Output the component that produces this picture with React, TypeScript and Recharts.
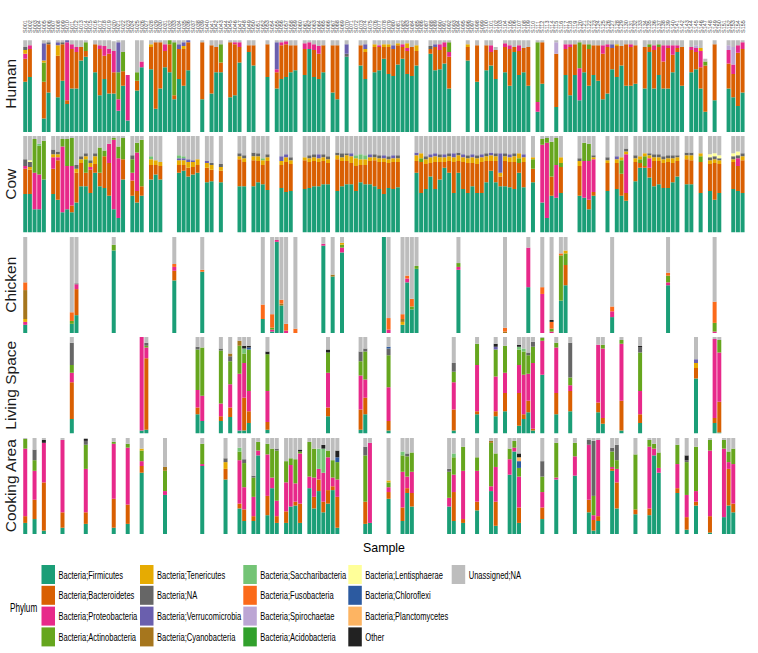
import React from "react";
import { BarChart, Bar, XAxis, YAxis } from "recharts";

// ---------- categories / tick labels ----------
const SAMPLE_IDS = (
  "S001 S002 S003 S004 S005 S006 S007 S008 S009 S010 S011 S012 S013 S014 S015 S016 S017 S018 S019 S020 " +
  "S021 S022 S023 S024 S025 S026 S027 S028 S029 S030 S031 S032 S033 S034 S035 S036 S037 S038 S039 S040 " +
  "S041 S042 S043 S044 S045 S046 S047 S048 S049 S050 S051 S052 S053 S054 S055 S056 S057 S058 S059 S060 " +
  "S061 S062 S063 S064 S065 S066 S067 S068 S069 S070 S071 S072 S073 S074 S075 S076 S077 S078 S079 S080 " +
  "S081 S082 S083 S084 S085 S086 S087 S088 S089 S090 S091 S092 S093 S094 S095 S096 S097 S098 S099 S100 " +
  "S101 S102 S103 S104 S105 S106 S107 S108 S109 S110 S111 S112 S113 S114 S115 S116 S117 S118 S119 S120 " +
  "S121 S122 S123 S124 S125 S126 S127 S128 S129 S130 S131 S132 S133 S134 S135 S136 S137 S138 S139 S140 " +
  "S141 S142 S143 S144 S145 S146 S147 S148 S149 S150 S151 S152 S153 S154 S155"
).split(" ");

// ---------- phyla (legend order = stack order bottom->top) ----------
const PHYLUM_KEYS = ["F", "B", "P", "A", "T", "N", "V", "C", "S", "Fu", "Sp", "Ac", "L", "Ch", "Pl", "O", "U"];
const PHYLUM_NAMES = [
  "Bacteria;Firmicutes", "Bacteria;Bacteroidetes", "Bacteria;Proteobacteria", "Bacteria;Actinobacteria",
  "Bacteria;Tenericutes", "Bacteria;NA", "Bacteria;Verrucomicrobia", "Bacteria;Cyanobacteria",
  "Bacteria;Saccharibacteria", "Bacteria;Fusobacteria", "Bacteria;Spirochaetae", "Bacteria;Acidobacteria",
  "Bacteria;Lentisphaerae", "Bacteria;Chloroflexi", "Bacteria;Planctomycetes", "Other", "Unassigned;NA",
];
const PHYLUM_COLORS = [
  "#1b9e77", "#d95f02", "#e7298a", "#66a61e", "#e6ab02", "#666666", "#6a5fae", "#a6761d",
  "#74c476", "#fb6a1a", "#bca6d4", "#31a02c", "#ffff99", "#2c5aa0", "#fdb462", "#222222", "#bdbdbd",
];

type V = Record<string, number>;

// ---------- relative abundance (%) per sample, per sample type ----------
const HUMAN: [number, V][] = [
  [0, { F: 52, B: 24, P: 5, T: 4, N: 3, U: 7 }], [1, { F: 57, B: 29, P: 4, U: 5 }],
  [4, { F: 14, B: 38, A: 20, V: 18, T: 2, U: 3 }], [5, { F: 41, B: 50, N: 2, U: 2 }],
  [7, { F: 36, B: 43, T: 11, V: 3, U: 2 }], [8, { F: 53, B: 38, N: 2, U: 2 }],
  [9, { F: 29, B: 4, P: 60, V: 2 }], [10, { F: 45, B: 41, P: 5, U: 4 }],
  [11, { F: 45, B: 38, P: 5, U: 7 }], [12, { F: 74, B: 14, U: 7 }],
  [13, { F: 78, B: 6, A: 9, U: 2 }], [15, { F: 62, B: 29, U: 4 }],
  [16, { F: 38, B: 48, P: 4, U: 5 }], [17, { F: 55, B: 24, P: 10, U: 6 }],
  [18, { F: 40, B: 41, P: 5, U: 9 }], [19, { F: 40, B: 22, P: 22, U: 10 }],
  [20, { F: 22, P: 12, A: 28, V: 31, U: 2 }], [21, { F: 48, B: 15, A: 20, U: 12 }],
  [22, { F: 12, P: 47 }], [24, { F: 43, B: 10, A: 9, U: 33 }],
  [25, { F: 67, P: 6, U: 22 }], [27, { F: 65, B: 23, T: 3, U: 4 }],
  [28, { F: 24, B: 69, U: 2 }], [29, { F: 45, B: 48, U: 2 }],
  [30, { F: 67, B: 17, P: 7, U: 4 }], [31, { F: 62, B: 29, A: 4 }],
  [32, { F: 34, B: 4, A: 55, U: 2 }], [33, { F: 55, B: 31, V: 5, U: 4 }],
  [34, { F: 48, B: 38, T: 3, V: 4, U: 2 }], [35, { F: 64, B: 29, V: 2 }],
  [38, { F: 34, B: 59, U: 2 }], [40, { F: 40, B: 50, U: 5 }],
  [41, { F: 62, B: 26, U: 7 }], [42, { F: 62, B: 10, A: 19, U: 4 }],
  [44, { F: 36, B: 57, U: 2 }], [45, { F: 38, B: 53, P: 2, U: 2 }],
  [46, { F: 72, B: 16, P: 5, U: 2 }], [48, { F: 83, B: 7, U: 5 }],
  [49, { F: 69, B: 21, U: 5 }], [52, { F: 57, B: 34, U: 4 }],
  [54, { F: 45, B: 17, P: 3, V: 28, U: 2 }], [55, { F: 55, B: 35, P: 3, U: 2 }],
  [56, { F: 57, B: 34, P: 3, U: 1 }], [57, { F: 62, B: 28, U: 5 }],
  [58, { F: 64, B: 26, U: 5 }], [60, { F: 59, B: 27, P: 6, U: 3 }],
  [61, { F: 86, P: 7, U: 2 }], [62, { F: 57, B: 28, P: 6, U: 4 }],
  [63, { F: 55, B: 26, P: 8, U: 6 }], [64, { F: 62, B: 28, U: 5 }],
  [66, { F: 41, B: 49, U: 5 }], [67, { F: 34, B: 56, U: 5 }],
  [69, { F: 78, N: 3, V: 10, U: 4 }], [72, { F: 69, B: 21, U: 5 }],
  [73, { F: 55, B: 28, V: 5, T: 3, U: 4 }], [75, { F: 62, B: 26, T: 3, U: 4 }],
  [76, { F: 64, B: 24, P: 2, U: 5 }], [77, { F: 76, B: 12, T: 3, U: 4 }],
  [78, { F: 60, B: 28, T: 3, U: 4 }], [79, { F: 58, B: 28, V: 4, U: 5 }],
  [80, { F: 70, B: 20, T: 2, U: 3 }], [81, { F: 76, B: 12, P: 3, U: 4 }],
  [82, { F: 60, B: 24, P: 3, T: 5, U: 3 }], [83, { F: 58, B: 30, U: 7 }],
  [84, { F: 69, B: 15, T: 6, U: 5 }], [87, { F: 81, B: 5, N: 3, U: 6 }],
  [88, { F: 64, B: 24, V: 3, U: 4 }], [89, { F: 65, B: 20, P: 6, U: 4 }],
  [90, { F: 71, B: 17, P: 5, U: 2 }], [91, { F: 45, B: 33, P: 5, A: 10, U: 2 }],
  [95, { F: 74, B: 14, T: 3, U: 4 }], [97, { F: 52, B: 38, U: 5 }],
  [99, { F: 64, B: 26, U: 5 }], [100, { F: 69, B: 14, P: 7, U: 5 }],
  [101, { F: 55, B: 30, U: 3 }], [103, { F: 62, B: 26, P: 4, U: 3 }],
  [104, { F: 48, B: 38, P: 4, U: 5 }], [105, { F: 83, B: 5, U: 7 }],
  [106, { F: 59, B: 25, P: 6, U: 5 }], [107, { F: 62, B: 25, U: 8 }],
  [108, { F: 48, B: 40, U: 7 }], [110, { F: 21, P: 10, A: 62, U: 2 }],
  [111, { F: 50, B: 43, U: 2 }], [114, { F: 26, B: 55, Sp: 12, U: 2 }],
  [116, { F: 59, B: 27, P: 5, U: 4 }], [117, { F: 38, B: 50, P: 3, U: 4 }],
  [118, { F: 59, B: 32, U: 4 }], [119, { F: 33, P: 33, A: 27, U: 2 }],
  [120, { F: 62, B: 29, U: 4 }], [121, { F: 48, B: 38, A: 5, U: 4 }],
  [122, { F: 59, B: 31, U: 5 }], [123, { F: 53, B: 37, U: 5 }],
  [124, { F: 34, B: 47, P: 9, U: 5 }], [125, { F: 40, B: 48, P: 3, U: 4 }],
  [126, { F: 65, B: 22, V: 4, U: 4 }], [127, { F: 57, B: 32, T: 2, U: 4 }],
  [128, { F: 69, B: 20, U: 6 }], [129, { F: 48, B: 43, U: 4 }],
  [130, { F: 48, B: 40, P: 3, U: 4 }], [131, { F: 50, B: 40, U: 5 }],
  [133, { F: 45, B: 43, U: 7 }], [134, { F: 83, B: 5, A: 3, U: 4 }],
  [135, { F: 45, B: 40, P: 5, U: 5 }], [136, { F: 59, B: 29, A: 3, U: 4 }],
  [137, { F: 45, B: 28, P: 17, U: 5 }], [138, { F: 45, B: 42, P: 3, U: 5 }],
  [139, { F: 62, B: 18, P: 10, U: 5 }], [140, { F: 83, B: 4, P: 3, U: 5 }],
  [141, { F: 48, B: 40, U: 7 }], [143, { F: 62, B: 23, P: 3, U: 7 }],
  [144, { F: 65, B: 18, P: 4, Sp: 3, U: 5 }], [145, { F: 45, B: 22, P: 17, T: 3, U: 8 }],
  [146, { F: 21, B: 48, A: 4, U: 3 }], [148, { F: 33, B: 58, U: 4 }],
  [151, { F: 45, B: 26, P: 14, Sp: 5, U: 5 }], [152, { F: 36, B: 24, P: 10, Sp: 18, U: 7 }],
  [153, { F: 27, B: 55, P: 8, U: 5 }], [154, { F: 41, B: 45, P: 7, U: 2 }],
];

const COW: [number, V][] = [
  [0, { F: 40, B: 26, P: 3, N: 7, U: 24 }], [1, { F: 40, B: 25, T: 3, N: 5, L: 2, U: 25 }],
  [2, { F: 24, P: 38, A: 35, U: 3 }], [3, { F: 24, P: 36, A: 30, S: 2, U: 8 }],
  [4, { F: 55, A: 40, U: 5 }], [6, { F: 40, B: 26, P: 12, T: 3, N: 5, U: 14 }],
  [7, { F: 34, B: 41, P: 3, T: 3, N: 3, U: 16 }], [8, { F: 21, P: 68, A: 8, U: 3 }],
  [9, { F: 24, P: 45, A: 28, U: 3 }], [10, { F: 21, P: 41, B: 7, A: 29, U: 2 }],
  [11, { F: 31, B: 31, T: 4, N: 4, U: 30 }], [12, { F: 48, B: 24, T: 4, N: 3, U: 21 }],
  [13, { F: 48, B: 14, A: 14, T: 3, N: 3, U: 18 }], [14, { F: 41, B: 24, P: 3, T: 4, N: 3, U: 25 }],
  [15, { F: 62, B: 9, T: 8, N: 3, U: 18 }], [16, { F: 48, B: 14, A: 26, U: 12 }],
  [17, { F: 46, B: 33, A: 6, U: 15 }], [18, { F: 38, B: 34, P: 20, U: 8 }],
  [19, { F: 24, P: 72, A: 2, U: 2 }], [20, { F: 15, P: 62, A: 12, U: 11 }],
  [21, { F: 55, B: 21, A: 22, U: 2 }], [23, { F: 38, B: 16, P: 8, A: 14, N: 4, U: 20 }],
  [24, { F: 31, B: 12, P: 40, A: 10, U: 7 }], [25, { F: 38, B: 10, A: 48, U: 4 }],
  [27, { F: 55, B: 15, T: 6, S: 3, U: 21 }], [28, { F: 60, B: 10, T: 5, U: 25 }],
  [29, { F: 55, B: 14, T: 4, U: 27 }], [33, { F: 62, B: 8, T: 5, S: 3, V: 2, U: 20 }],
  [34, { F: 64, B: 6, T: 5, V: 2, S: 2, U: 21 }], [35, { F: 58, B: 9, T: 6, V: 3, U: 24 }],
  [36, { F: 60, B: 8, T: 5, V: 2, U: 25 }], [37, { F: 62, B: 8, T: 6, U: 24 }],
  [39, { F: 52, B: 15, T: 5, V: 2, U: 26 }], [40, { F: 53, B: 12, T: 5, N: 2, U: 28 }],
  [42, { F: 52, B: 12, T: 4, N: 3, U: 29 }], [46, { F: 48, B: 28, T: 3, N: 3, U: 18 }],
  [47, { F: 48, B: 25, T: 4, N: 3, U: 20 }], [49, { F: 48, B: 27, T: 4, N: 4, U: 17 }],
  [50, { F: 52, B: 22, T: 5, N: 3, U: 18 }], [51, { F: 50, B: 20, T: 5, S: 2, U: 23 }],
  [52, { F: 44, B: 30, T: 4, N: 3, U: 19 }], [55, { F: 46, B: 24, T: 4, V: 5, U: 21 }],
  [56, { F: 42, B: 31, T: 5, V: 3, U: 19 }], [57, { F: 43, B: 28, T: 4, N: 3, U: 22 }],
  [60, { F: 45, B: 30, T: 3, U: 22 }], [61, { F: 46, B: 27, T: 4, N: 3, U: 20 }],
  [62, { F: 48, B: 26, T: 4, N: 3, U: 19 }], [63, { F: 48, B: 25, T: 4, V: 4, U: 19 }],
  [64, { F: 50, B: 24, T: 4, N: 3, U: 19 }], [65, { F: 50, B: 22, T: 4, N: 3, U: 21 }],
  [67, { F: 43, B: 33, T: 4, N: 3, U: 17 }], [68, { F: 48, B: 26, T: 4, N: 4, U: 18 }],
  [69, { F: 50, B: 24, T: 6, N: 2, U: 18 }], [70, { F: 50, B: 22, T: 7, V: 3, U: 18 }],
  [71, { F: 43, B: 26, T: 8, S: 3, U: 20 }], [72, { F: 52, B: 18, T: 6, S: 5, U: 19 }],
  [73, { F: 50, B: 20, T: 6, S: 4, U: 20 }], [74, { F: 50, B: 24, T: 4, V: 3, U: 19 }],
  [75, { F: 48, B: 27, T: 3, N: 3, U: 19 }], [76, { F: 45, B: 28, T: 4, N: 3, U: 20 }],
  [77, { F: 40, B: 33, T: 4, V: 3, U: 20 }], [78, { F: 46, B: 26, T: 4, N: 3, U: 21 }],
  [79, { F: 45, B: 28, T: 4, V: 3, U: 20 }], [80, { F: 47, B: 26, T: 4, N: 3, U: 20 }],
  [84, { F: 62, B: 12, T: 6, V: 3, U: 17 }], [85, { F: 41, B: 32, T: 5, A: 4, U: 18 }],
  [86, { F: 45, B: 26, T: 5, N: 3, U: 21 }], [87, { F: 58, B: 14, T: 6, V: 3, U: 19 }],
  [88, { F: 45, B: 28, T: 6, V: 3, U: 18 }], [89, { F: 55, B: 18, T: 5, N: 3, U: 19 }],
  [90, { F: 67, B: 6, T: 5, V: 3, U: 19 }], [91, { F: 62, B: 12, T: 5, N: 3, U: 18 }],
  [92, { F: 41, B: 32, T: 5, V: 4, U: 18 }], [93, { F: 62, B: 12, T: 6, N: 3, U: 17 }],
  [94, { F: 45, B: 28, T: 5, V: 3, U: 19 }], [95, { F: 41, B: 31, T: 5, N: 3, U: 20 }],
  [96, { F: 48, B: 24, T: 6, V: 3, U: 19 }], [97, { F: 41, B: 30, T: 6, N: 3, U: 20 }],
  [98, { F: 41, B: 32, T: 5, V: 3, U: 19 }], [99, { F: 52, B: 22, T: 5, N: 3, U: 18 }],
  [100, { F: 64, B: 10, T: 6, V: 3, U: 17 }], [101, { F: 52, B: 22, T: 5, N: 3, U: 18 }],
  [102, { F: 48, B: 10, T: 4, V: 20, U: 18 }], [103, { F: 48, B: 26, T: 5, N: 3, U: 18 }],
  [104, { F: 47, B: 26, T: 5, V: 3, U: 19 }], [105, { F: 45, B: 28, T: 6, N: 3, U: 18 }],
  [106, { F: 62, B: 10, A: 5, T: 5, U: 18 }], [107, { F: 47, B: 26, T: 5, V: 3, U: 19 }],
  [109, { F: 52, B: 14, A: 10, T: 2, U: 22 }], [111, { F: 31, P: 60, A: 6, U: 3 }],
  [112, { F: 15, P: 78, A: 5, U: 2 }], [113, { F: 38, B: 20, A: 36, U: 6 }],
  [114, { F: 36, P: 34, A: 28, U: 2 }], [115, { F: 41, B: 27, A: 4, T: 6, U: 22 }],
  [119, { F: 38, B: 31, T: 5, N: 3, U: 23 }], [120, { F: 36, P: 38, A: 19, U: 7 }],
  [121, { F: 24, B: 10, P: 40, A: 18, U: 8 }], [122, { F: 38, B: 4, P: 34, T: 2, N: 2, U: 20 }],
  [125, { F: 43, B: 29, T: 3, N: 3, U: 22 }], [127, { F: 45, B: 27, T: 4, V: 3, U: 21 }],
  [128, { F: 38, B: 23, A: 14, T: 3, U: 22 }], [129, { F: 33, B: 8, P: 40, T: 3, N: 3, U: 13 }],
  [131, { F: 53, B: 20, T: 4, N: 3, U: 20 }], [132, { F: 67, B: 5, A: 4, T: 3, U: 21 }],
  [133, { F: 67, B: 2, A: 10, T: 3, U: 18 }], [134, { F: 57, B: 10, P: 10, T: 3, N: 2, U: 18 }],
  [135, { F: 48, B: 26, T: 4, N: 3, U: 19 }], [136, { F: 50, B: 24, T: 4, N: 3, U: 19 }],
  [137, { F: 46, B: 26, T: 4, N: 3, U: 21 }], [138, { F: 46, B: 27, T: 4, N: 3, U: 20 }],
  [139, { F: 52, B: 20, T: 5, N: 3, U: 20 }], [140, { F: 58, B: 16, T: 4, N: 2, U: 20 }],
  [142, { F: 50, B: 26, T: 4, N: 3, U: 17 }], [143, { F: 50, B: 25, T: 5, N: 3, U: 17 }],
  [145, { F: 41, B: 32, A: 6, T: 3, U: 18 }], [147, { F: 43, B: 28, T: 4, N: 3, L: 3, U: 19 }],
  [148, { F: 34, B: 38, T: 4, N: 3, L: 3, U: 18 }], [149, { F: 41, B: 30, T: 4, N: 2, L: 3, U: 20 }],
  [152, { F: 45, B: 28, T: 3, N: 3, L: 3, U: 18 }], [153, { F: 43, B: 26, P: 8, N: 3, L: 4, U: 16 }],
  [154, { F: 41, B: 34, T: 4, N: 3, U: 18 }],
];

const CHICKEN: [number, V][] = [
  [0, { F: 9, P: 3, T: 3, C: 30, Fu: 8, U: 47 }], [10, { F: 10, A: 3, Fu: 9, U: 78 }],
  [11, { F: 19, B: 27, P: 5, N: 1, U: 48 }], [19, { F: 86, A: 6, U: 8 }],
  [32, { F: 55, B: 10, P: 4, Fu: 3, U: 28 }], [38, { F: 64, Fu: 2, U: 34 }],
  [51, { F: 15, Fu: 15, U: 70 }], [53, { F: 2, P: 2, A: 2, Fu: 14, U: 80 }],
  [54, { F: 95, P: 2, U: 3 }], [55, { F: 29, C: 2, Fu: 4, U: 65 }],
  [56, { P: 3, Fu: 7, U: 90 }], [58, { Fu: 5, U: 95 }],
  [64, { F: 91, P: 2, U: 7 }], [66, { F: 59, C: 2, U: 39 }],
  [68, { F: 84, P: 5, A: 3, T: 2, U: 6 }], [77, { F: 100 }],
  [78, { P: 4, Fu: 12, U: 84 }], [81, { F: 9, C: 3, T: 3, Fu: 5, U: 80 }],
  [82, { F: 53, P: 4, Fu: 3, U: 40 }], [83, { F: 25, A: 3, Fu: 8, U: 64 }],
  [84, { F: 67, A: 3, U: 30 }], [93, { F: 66, P: 3, A: 4, U: 27 }],
  [103, { C: 2, Fu: 4, U: 94 }], [108, { F: 48, P: 41, U: 11 }],
  [111, { P: 41, Fu: 7, U: 52 }], [113, { P: 2, A: 3, Fu: 7, O: 2, U: 86 }],
  [115, { F: 34, A: 47, Fu: 2, U: 17 }], [116, { F: 50, B: 21, A: 12, T: 3, U: 14 }],
  [126, { F: 17, P: 6, Fu: 5, U: 72 }], [138, { F: 50, P: 3, A: 7, Fu: 3, U: 37 }],
  [148, { P: 2, A: 9, Fu: 22, U: 67 }],
];

const LIVING: [number, V][] = [
  [10, { F: 15, B: 38, P: 10, A: 8, N: 23, U: 6 }], [25, { F: 3, P: 97 }],
  [26, { F: 4, B: 74, P: 11, A: 2, N: 3, U: 6 }], [37, { F: 20, B: 7, P: 18, A: 42, N: 3, U: 10 }],
  [38, { F: 13, P: 26, A: 50, U: 11 }], [42, { F: 13, B: 5, P: 13, A: 55, N: 2, U: 12 }],
  [44, { F: 17, B: 10, P: 24, A: 24, N: 5, C: 3, U: 17 }], [46, { F: 3, P: 59, A: 29, C: 5, U: 4 }],
  [47, { F: 3, B: 34, P: 36, A: 10, S: 5, O: 3, U: 9 }], [48, { F: 11, B: 12, P: 21, A: 43, Ch: 2, O: 2, U: 9 }],
  [52, { F: 4, B: 8, P: 32, A: 38, O: 3, U: 15 }], [65, { F: 18, B: 9, P: 36, A: 21, O: 3, U: 13 }],
  [72, { F: 4, B: 21, P: 35, A: 15, N: 10, U: 15 }], [73, { F: 20, B: 17, P: 19, A: 29, N: 3, U: 12 }],
  [78, { F: 3, B: 10, P: 35, A: 33, N: 7, Ch: 2, U: 10 }], [92, { F: 3, B: 22, P: 28, A: 11, N: 9, U: 27 }],
  [97, { F: 20, B: 3, P: 48, A: 22, U: 7 }], [101, { F: 18, B: 5, P: 36, A: 28, V: 3, O: 3, U: 7 }],
  [103, { F: 23, B: 19, P: 21, A: 28, U: 9 }], [106, { F: 8, B: 34, P: 29, A: 16, S: 3, O: 2, U: 8 }],
  [107, { F: 15, B: 5, P: 41, A: 24, S: 3, U: 12 }], [108, { F: 22, B: 12, P: 28, A: 19, N: 3, U: 16 }],
  [109, { F: 3, B: 2, P: 68, A: 17, N: 5, U: 5 }], [111, { F: 61, P: 35, A: 3, U: 1 }],
  [114, { F: 20, B: 22, P: 47, A: 5, U: 6 }], [117, { F: 23, B: 21, P: 6, A: 8, N: 36, U: 6 }],
  [123, { F: 22, B: 10, P: 60, U: 8 }], [124, { F: 10, B: 6, P: 72, A: 4, U: 8 }],
  [128, { F: 3, B: 31, P: 59, A: 4, U: 3 }], [132, { F: 11, B: 9, P: 24, A: 40, N: 5, O: 2, U: 9 }],
  [144, { F: 57, B: 11, T: 5, V: 4, U: 23 }], [148, { F: 11, B: 5, P: 82, U: 2 }],
  [149, { F: 1, B: 32, P: 51, A: 13, U: 3 }],
];

const COOKING: [number, V][] = [
  [0, { F: 12, B: 7, P: 70, A: 10, U: 1 }], [2, { F: 16, B: 20, P: 30, A: 11, N: 11, U: 12 }],
  [4, { F: 4, B: 50, P: 41, O: 3, U: 2 }], [8, { F: 7, B: 16, P: 75, U: 2 }],
  [13, { F: 11, B: 12, P: 45, A: 25, N: 4, O: 2, U: 1 }], [19, { F: 7, B: 30, P: 57, A: 2, U: 4 }],
  [22, { F: 11, B: 20, P: 59, A: 4, U: 6 }], [25, { F: 64, B: 7, P: 5, A: 11, T: 2, U: 11 }],
  [30, { F: 41, P: 4, A: 21, C: 4, U: 30 }], [38, { F: 71, P: 2, A: 21, U: 6 }],
  [43, { F: 57, B: 11, T: 7, N: 4, U: 21 }], [46, { F: 27, B: 5, P: 45, A: 9, S: 4, U: 10 }],
  [47, { F: 14, B: 12, P: 23, A: 25, N: 4, U: 22 }], [49, { F: 14, B: 5, P: 20, A: 20, N: 2, U: 39 }],
  [50, { F: 82, P: 5, A: 9, U: 4 }], [52, { F: 20, B: 20, P: 43, A: 11, U: 6 }],
  [53, { F: 48, P: 11, A: 30, U: 11 }], [54, { F: 12, B: 7, P: 16, A: 52, N: 2, U: 11 }],
  [56, { F: 12, B: 12, P: 30, A: 22, U: 24 }], [57, { F: 29, P: 43, A: 7, U: 21 }],
  [58, { F: 30, B: 4, P: 19, A: 25, U: 22 }], [59, { F: 12, B: 20, P: 52, A: 2, O: 2, U: 12 }],
  [61, { F: 48, P: 12, A: 36, U: 4 }], [62, { F: 27, B: 12, P: 20, A: 30, U: 11 }],
  [63, { F: 45, B: 12, P: 11, S: 21, U: 11 }], [64, { F: 23, B: 11, P: 30, S: 25, O: 4, U: 7 }],
  [65, { F: 32, B: 14, P: 34, A: 7, U: 13 }], [66, { F: 46, B: 4, P: 9, A: 18, U: 23 }],
  [67, { F: 7, B: 32, P: 18, A: 18, Ch: 5, O: 7, U: 13 }], [73, { F: 11, B: 23, A: 48, N: 9, U: 9 }],
  [74, { F: 12, P: 83, U: 5 }], [78, { F: 37, B: 7, P: 5, A: 5, T: 2, U: 44 }],
  [81, { F: 14, B: 14, P: 37, A: 17, S: 4, U: 14 }], [82, { F: 43, B: 5, P: 12, A: 21, N: 3, U: 16 }],
  [83, { F: 29, B: 14, P: 22, A: 20, U: 15 }], [91, { F: 29, P: 9, A: 27, N: 3, U: 32 }],
  [92, { F: 14, B: 30, P: 18, A: 18, S: 4, U: 16 }], [94, { F: 12, B: 4, P: 50, A: 25, U: 9 }],
  [97, { F: 25, B: 9, P: 32, A: 14, U: 20 }], [100, { F: 45, P: 5, A: 45, C: 2, U: 3 }],
  [101, { F: 9, B: 25, P: 36, A: 14, U: 16 }], [104, { F: 62, P: 16, A: 11, U: 11 }],
  [105, { F: 86, P: 4, A: 7, U: 3 }], [106, { F: 12, B: 16, P: 32, A: 9, Ch: 7, Pl: 4, O: 4, U: 16 }],
  [111, { F: 16, B: 12, P: 16, A: 16, N: 16, U: 24 }], [114, { F: 57, P: 2, A: 36, U: 5 }],
  [118, { F: 61, P: 20, A: 14, U: 5 }], [121, { F: 23, B: 13, P: 57, N: 5, U: 2 }],
  [122, { F: 4, B: 11, P: 5, A: 20, N: 57, U: 3 }], [123, { F: 14, B: 5, P: 79, U: 2 }],
  [126, { F: 66, B: 2, P: 2, A: 16, N: 4, U: 10 }], [127, { F: 27, B: 27, P: 14, A: 9, N: 16, U: 7 }],
  [131, { F: 21, B: 5, A: 57, U: 17 }], [134, { F: 20, B: 7, P: 64, A: 7, U: 2 }],
  [135, { F: 82, P: 7, A: 5, U: 6 }], [136, { F: 64, P: 5, A: 16, U: 15 }],
  [140, { F: 43, B: 5, P: 25, A: 20, U: 7 }], [142, { F: 5, B: 13, P: 23, A: 34, N: 2, O: 5, U: 18 }],
  [144, { F: 30, B: 4, P: 11, A: 46, U: 9 }], [147, { F: 2, B: 17, P: 68, A: 11, U: 2 }],
  [150, { F: 18, P: 71, A: 9, U: 2 }], [151, { F: 30, B: 38, P: 7, A: 11, U: 14 }],
  [152, { F: 23, B: 9, P: 41, A: 16, U: 11 }],
];

const PANEL_LABELS = ["Human", "Cow", "Chicken", "Living Space", "Cooking Area"];
const PANEL_DATA = [HUMAN, COW, CHICKEN, LIVING, COOKING];

// ---------- layout ----------
const W = 758;
const PLOT_LEFT = 22.5;
const PLOT_RIGHT = 745.5;
const PANEL_TOPS = [35.5, 136, 236.5, 337, 437.5];
const PANEL_H = 96.5;
const FONT = "'Liberation Sans', Arial, Helvetica, sans-serif";

function buildRows(samples: [number, V][]) {
  const rows: any[] = SAMPLE_IDS.map((id) => {
    const r: any = { id };
    PHYLUM_KEYS.forEach((k) => (r[k] = 0));
    return r;
  });
  samples.forEach(([i, v]) => {
    Object.keys(v).forEach((k) => (rows[i][k] = v[k]));
  });
  return rows;
}

const TopTick = (props: any) => {
  const { x, y, payload } = props;
  return (
    <text
      x={x}
      y={y}
      transform={`rotate(-90 ${x} ${y})`}
      dy="0.35em"
      textAnchor="start"
      fontSize={5.5}
      fill="#4d4d4d"
      fontFamily={FONT}
    >
      {payload.value}
    </text>
  );
};

function Panel({ idx }: { idx: number }) {
  const rows = buildRows(PANEL_DATA[idx]);
  const showTicks = idx === 0;
  const axisH = showTicks ? PANEL_TOPS[0] : 0;
  const top = PANEL_TOPS[idx] - axisH;
  return (
    <div style={{ position: "absolute", left: 0, top }}>
      <BarChart
        width={W}
        height={PANEL_H + axisH}
        data={rows}
        margin={{ top: 0, right: W - PLOT_RIGHT, bottom: 0, left: PLOT_LEFT }}
        barCategoryGap="5%"
      >
        <XAxis
          dataKey="id"
          orientation="top"
          hide={!showTicks}
          interval={0}
          height={axisH}
          tickLine={false}
          axisLine={false}
          tickSize={0}
          tickMargin={2.5}
          tick={<TopTick />}
          padding={{ left: 0.5, right: 0.5 }}
        />
        <YAxis hide domain={[0, 100]} allowDataOverflow type="number" />
        {PHYLUM_KEYS.map((k, i) => (
          <Bar
            key={k}
            dataKey={k}
            name={PHYLUM_NAMES[i]}
            stackId="s"
            fill={PHYLUM_COLORS[i]}
            isAnimationActive={false}
          />
        ))}
      </BarChart>
    </div>
  );
}

const LEGEND_COLS_X = [41.5, 140, 243.3, 348.3, 451.7];
const LEGEND_ROW_Y = 565;
const LEGEND_ROW_H = 20.8;
const NARROW_SCALE = 0.72;

export default function App() {
  return (
    <div style={{ position: "absolute", left: 0, top: 0, width: W, height: 653, background: "#fff" }}>
      {PANEL_LABELS.map((_, i) => (
        <Panel key={i} idx={i} />
      ))}
      <svg
        width={W}
        height={653}
        style={{ position: "absolute", left: 0, top: 0, pointerEvents: "none" }}
      >
        {PANEL_LABELS.map((lab, i) => {
          const cy = PANEL_TOPS[i] + PANEL_H / 2;
          const x = 16;
          return (
            <text
              key={lab}
              x={x}
              y={cy}
              transform={`rotate(-90 ${x} ${cy})`}
              textAnchor="middle"
              fontSize={15.5}
              fill="#1a1a1a"
              fontFamily={FONT}
            >
              {lab}
            </text>
          );
        })}
        <text x={(PLOT_LEFT + PLOT_RIGHT) / 2} y={552} textAnchor="middle" fontSize={12.4} fill="#000" fontFamily={FONT}>
          Sample
        </text>
        <text transform={`translate(10 612) scale(0.68 1)`} fontSize={12} fill="#000" fontFamily={FONT}>
          Phylum
        </text>
        {PHYLUM_NAMES.map((name, i) => {
          const col = Math.floor(i / 4);
          const row = i % 4;
          const x = LEGEND_COLS_X[col];
          const y = LEGEND_ROW_Y + row * LEGEND_ROW_H;
          return (
            <g key={name}>
              <rect x={x} y={y} width={13.5} height={19} fill={PHYLUM_COLORS[i]} />
              <text
                transform={`translate(${x + 17} ${y + 13.5}) scale(${NARROW_SCALE} 1)`}
                fontSize={10.5}
                fill="#000"
                fontFamily={FONT}
              >
                {name}
              </text>
            </g>
          );
        })}
      </svg>
    </div>
  );
}
